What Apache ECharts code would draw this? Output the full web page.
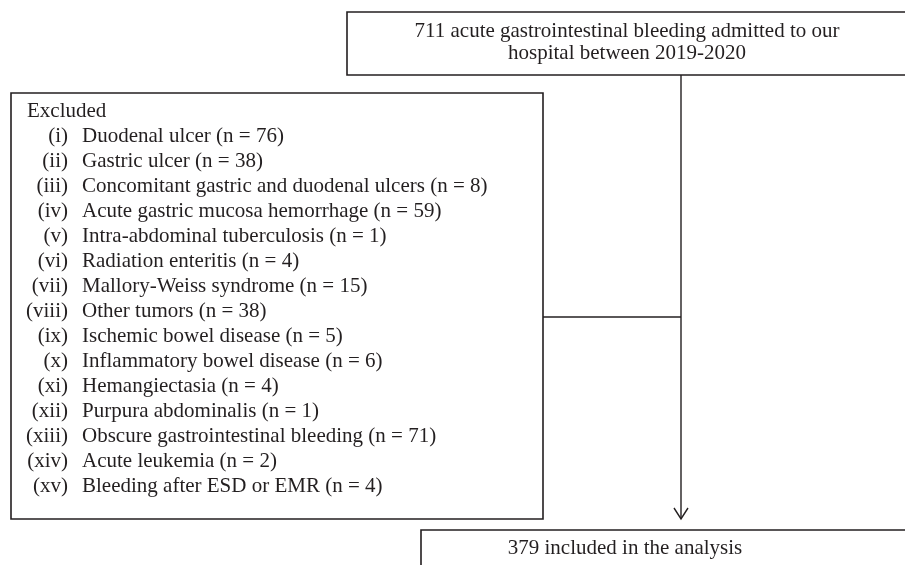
<!DOCTYPE html>
<html>
<head>
<meta charset="UTF-8">
<script src="https://cdn.jsdelivr.net/npm/echarts@6/dist/echarts.min.js"></script>
<style>html,body{margin:0;padding:0;background:#fff;overflow:hidden;}</style>
<title></title>
</head>
<body>
<div id="graph" style="width:905px;height:565px;"></div>
<script>
// flowchart contents
var topLines = ['711 acute gastrointestinal bleeding admitted to our', 'hospital between 2019-2020'];
var excludedTitle = 'Excluded';
var numerals = ['(i)', '(ii)', '(iii)', '(iv)', '(v)', '(vi)', '(vii)', '(viii)', '(ix)', '(x)', '(xi)', '(xii)', '(xiii)', '(xiv)', '(xv)'];
var causes = ['Duodenal ulcer', 'Gastric ulcer', 'Concomitant gastric and duodenal ulcers',
  'Acute gastric mucosa hemorrhage', 'Intra-abdominal tuberculosis', 'Radiation enteritis',
  'Mallory-Weiss syndrome', 'Other tumors', 'Ischemic bowel disease', 'Inflammatory bowel disease',
  'Hemangiectasia', 'Purpura abdominalis', 'Obscure gastrointestinal bleeding', 'Acute leukemia',
  'Bleeding after ESD or EMR'];
var counts = [76, 38, 8, 59, 1, 4, 15, 38, 5, 6, 4, 1, 71, 2, 4];
var bottomLabel = '379 included in the analysis';

var ink = '#231f20';
var font = '"Liberation Serif", "DejaVu Serif", serif';
var fs = 21;

function box(x, y, w, h) {
  return { type: 'rect', shape: { x: x, y: y, width: w, height: h },
    style: { fill: null, stroke: ink, lineWidth: 1.6 } };
}
function line(x1, y1, x2, y2) {
  return { type: 'line', shape: { x1: x1, y1: y1, x2: x2, y2: y2 },
    style: { stroke: ink, lineWidth: 1.4 } };
}
function txt(s, x, y, align) {
  return { type: 'text', x: x, y: y,
    style: { text: s, fill: ink, fontSize: fs, fontFamily: font, align: align || 'left', verticalAlign: 'middle' } };
}

var els = [];
// top box (runs off the right edge)
els.push(box(347, 12, 600, 63));
topLines.forEach(function (s, i) { els.push(txt(s, 627, 31 + i * 22, 'center')); });

// excluded box
els.push(box(11, 93, 532, 426));
els.push(txt(excludedTitle, 27, 111));
causes.forEach(function (c, i) {
  var y = 111 + (i + 1) * 25;
  els.push(txt(numerals[i], 68, y, 'right'));
  els.push(txt(c + ' (n = ' + counts[i] + ')', 82, y));
});

// connectors
els.push(line(681, 75, 681, 519));
els.push(line(543, 317, 681, 317));
els.push({ type: 'polyline', shape: { points: [[674, 508], [681, 519], [688, 508]] },
  style: { fill: null, stroke: ink, lineWidth: 1.4 } });

// bottom box
els.push(box(421, 530, 520, 60));
els.push(txt(bottomLabel, 625, 548, 'center'));

var myChart = echarts.init(document.getElementById('graph'));
myChart.setOption({
  backgroundColor: '#fff',
  animation: false,
  graphic: { elements: els }
});
</script>
</body>
</html>
